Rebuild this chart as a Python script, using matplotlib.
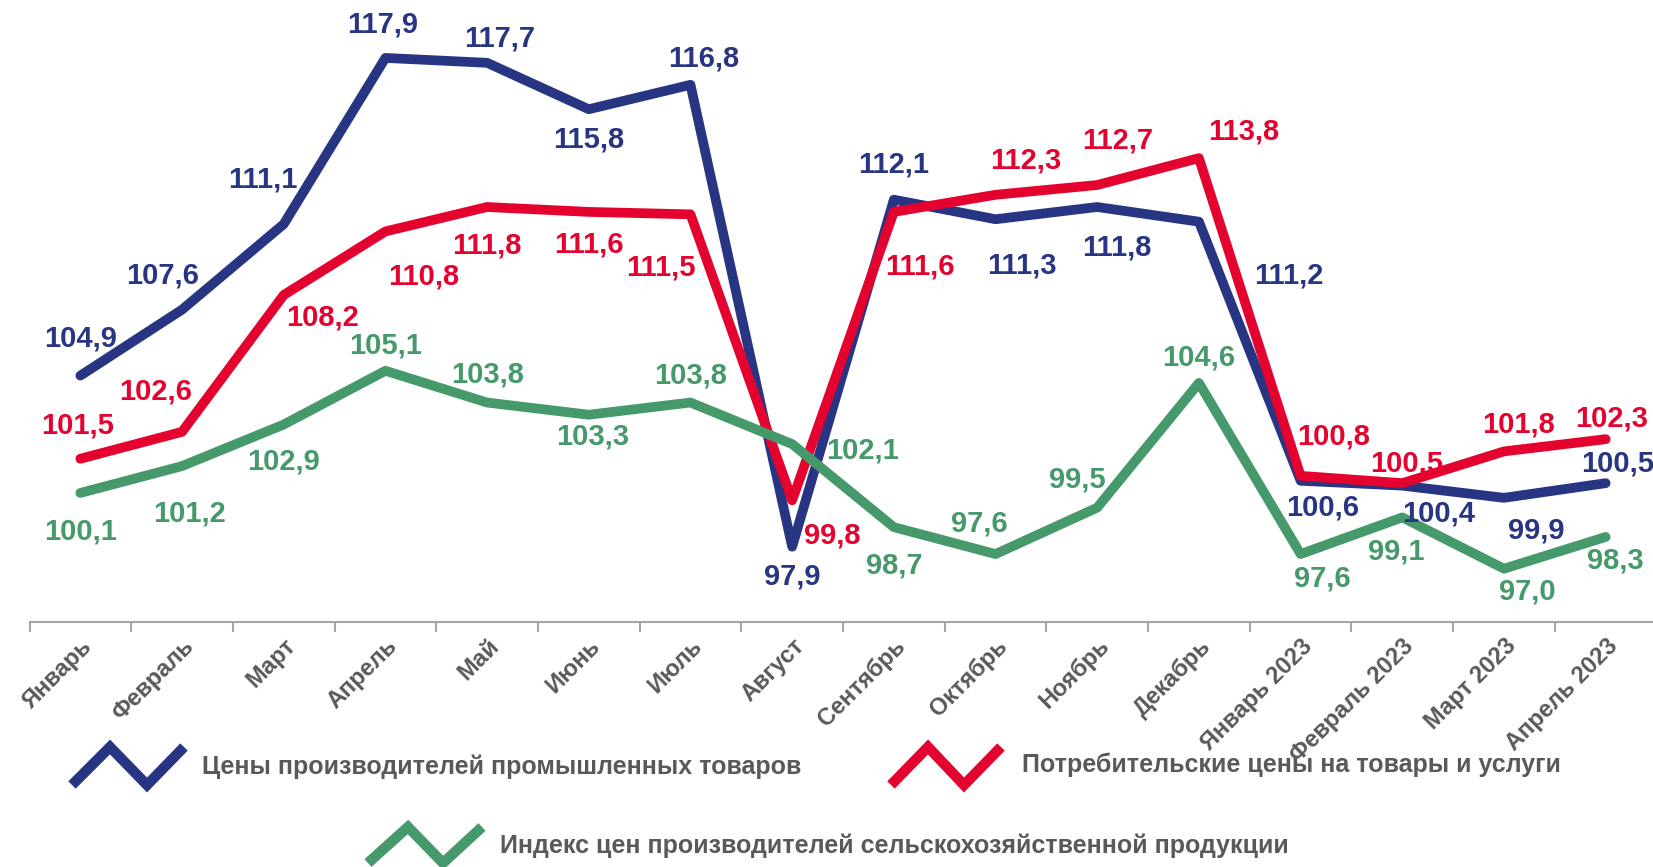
import matplotlib
matplotlib.use('Agg')
import matplotlib.pyplot as plt
from matplotlib.lines import Line2D
from matplotlib.ticker import FixedLocator, NullFormatter

plt.rcParams['font.family'] = ['Liberation Sans', 'DejaVu Sans']

months = ['Январь', 'Февраль', 'Март', 'Апрель', 'Май', 'Июнь', 'Июль', 'Август',
          'Сентябрь', 'Октябрь', 'Ноябрь', 'Декабрь', 'Январь 2023', 'Февраль 2023',
          'Март 2023', 'Апрель 2023']

industrial = [104.9, 107.6, 111.1, 117.9, 117.7, 115.8, 116.8, 97.9,
              112.1, 111.3, 111.8, 111.2, 100.6, 100.4, 99.9, 100.5]
consumer = [101.5, 102.6, 108.2, 110.8, 111.8, 111.6, 111.5, 99.8,
            111.6, 112.3, 112.7, 113.8, 100.8, 100.5, 101.8, 102.3]
agricultural = [100.1, 101.2, 102.9, 105.1, 103.8, 103.3, 103.8, 102.1,
                98.7, 97.6, 99.5, 104.6, 97.6, 99.1, 97.0, 98.3]

series_names = ['Цены производителей промышленных товаров',
                'Потребительские цены на товары и услуги',
                'Индекс цен производителей сельскохозяйственной продукции']

# label offsets in pixels (dx, dy), picked by eye
industrial_off = [(0, 37), (-19, 34), (-21, 45), (-3, 33), (13, 24), (0, -30), (13, 26), (0, -30),
                  (0, 35), (26, -46), (20, -40), (90, -54), (22, -27), (36, -28), (32, -33), (12, 20)]
consumer_off = [(-3, 33), (-26, 40), (39, -23), (38, -45), (0, -38), (0, -33), (-30, -53), (40, -35),
                (26, -55), (30, 34), (20, 45), (45, 27), (33, 39), (4, 20), (15, 27), (6, 21)]
agricultural_off = [(0, -39), (7, -47), (0, -37), (0, 25), (0, 28), (4, -22), (0, 27), (70, -6),
                    (0, -38), (-16, 31), (-20, 28), (0, 25), (22, -24), (-6, -34), (23, -23), (10, -24)]

blue = '#283583'
red = '#E4032E'
green = '#45996A'
grey_text = '#595959'

W, H = 1653, 867
fig = plt.figure(figsize=(W / 100, H / 100), dpi=100)
ax = fig.add_axes([29.5 / W, 1 - 622 / H, 1627 / W, 622 / H])

x = list(range(len(months)))
for vals, offs, color, z in [(industrial, industrial_off, blue, 2),
                             (consumer, consumer_off, red, 3),
                             (agricultural, agricultural_off, green, 4)]:
    ax.plot(x, vals, color=color, lw=7, solid_capstyle='round',
            solid_joinstyle='round', zorder=z)
    for xi, v, (dx, dy) in zip(x, vals, offs):
        ax.annotate(f'{v:.1f}'.replace('.', ','), (xi, v), xytext=(dx, dy),
                    textcoords='offset pixels', ha='center', va='center',
                    color=color, fontsize=21, fontweight='bold',
                    annotation_clip=False, zorder=5)

ax.set_xlim(-0.5, len(months) - 0.5)
ax.set_ylim(94.82, 120.27)

for side in ['top', 'right', 'left']:
    ax.spines[side].set_visible(False)
ax.spines['bottom'].set_color('#A6A6A6')
ax.spines['bottom'].set_linewidth(1.5)
ax.set_yticks([])

ax.set_xticks(x)
ax.set_xticklabels(months, rotation=45, ha='right', va='top', rotation_mode='anchor',
                   fontsize=17, fontweight='bold', color=grey_text)
ax.tick_params(axis='x', which='major', length=0, pad=9)
ax.xaxis.set_minor_locator(FixedLocator([i - 0.5 for i in range(len(months) + 1)]))
ax.xaxis.set_minor_formatter(NullFormatter())
ax.tick_params(axis='x', which='minor', length=7, width=1.5, color='#A6A6A6', direction='out')

# legend drawn by hand: zigzag + text
legend_items = [
    (series_names[0], blue, [72, 110, 147, 184], 785, 747, 202, 767),
    (series_names[1], red, [891, 928, 964, 1001], 785, 747, 1022, 765),
    (series_names[2], green, [368, 408, 443, 482], 863, 827, 500, 846),
]
for name, color, xs, ylo, yhi, tx, ty in legend_items:
    ys = [ylo, yhi, ylo, yhi]
    fig.add_artist(Line2D([v / W for v in xs], [1 - v / H for v in ys],
                          transform=fig.transFigure, color=color, lw=7.5,
                          solid_joinstyle='miter', solid_capstyle='butt'))
    fig.text(tx / W, 1 - ty / H, name, ha='left', va='center', fontsize=18,
             fontweight='bold', color=grey_text)

fig.savefig('out.png', dpi=100)
